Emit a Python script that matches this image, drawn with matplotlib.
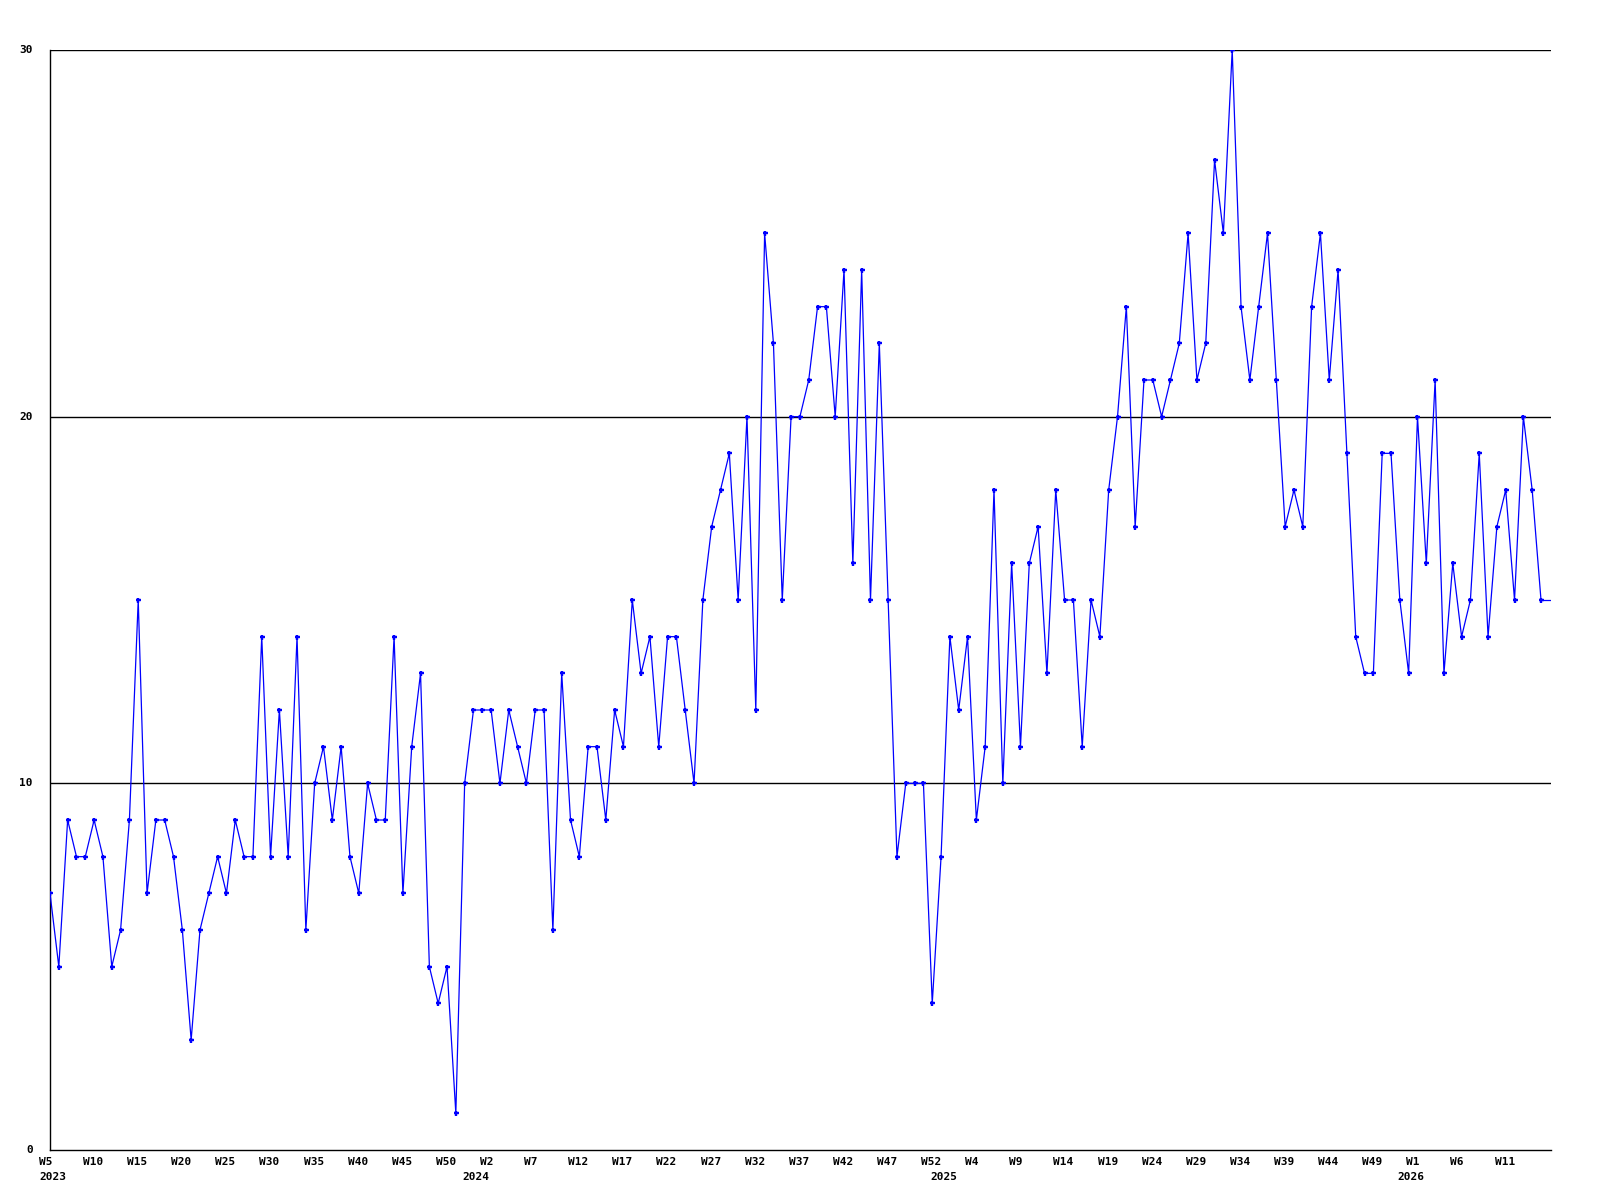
import matplotlib
matplotlib.use('Agg')
import matplotlib.pyplot as plt
import numpy as np

# weekly counts, one per week bin (year, week) starting 2023 W5
counts = [7, 5, 9, 8, 8, 9, 8, 5, 6, 9, 15, 7, 9, 9, 8, 6, 3, 6, 7, 8,
          7, 9, 8, 8, 14, 8, 12, 8, 14, 6, 10, 11, 9, 11, 8, 7, 10, 9, 9, 14,
          7, 11, 13, 5, 4, 5, 1, 10,
          12, 12, 12, 10, 12, 11, 10, 12, 12, 6, 13, 9, 8, 11, 11, 9, 12, 11, 15, 13,
          14, 11, 14, 14, 12, 10, 15, 17, 18, 19, 15, 20, 12, 25, 22, 15, 20, 20, 21, 23,
          23, 20, 24, 16, 24, 15, 22, 15, 8, 10, 10, 10, 4,
          8, 14, 12, 14, 9, 11, 18, 10, 16, 11, 16, 17, 13, 18, 15, 15, 11, 15, 14, 18,
          20, 23, 17, 21, 21, 20, 21, 22, 25, 21, 22, 27, 25, 30, 23, 21, 23, 25, 21, 17,
          18, 17, 23, 25, 21, 24, 19, 14, 13, 13, 19, 19, 15,
          13, 20, 16, 21, 13, 16, 14, 15, 19, 14, 17, 18, 15, 20, 18, 15]

# week ranges per year (first week, last week)
year_weeks = [(2023, 5, 52), (2024, 0, 52), (2025, 0, 52), (2026, 0, 15)]

years = []
weeks = []
for yr, w0, w1 in year_weeks:
    for w in range(w0, w1 + 1):
        years.append(yr)
        weeks.append(w)

x = np.arange(len(counts))
yticks = [0, 10, 20, 30]

fig = plt.figure(figsize=(16, 12), dpi=100)
ax = fig.add_axes([50/1600, 50/1200, 1501/1600, 1100/1200])

xmax = x[-1] + 10/8.82
ax.set_xlim(0, xmax)
ax.set_ylim(0, 30)

for yv in yticks[1:]:
    ax.axhline(yv, color='black', lw=1.0, zorder=1)

ax.plot(x, counts, color='#0000ff', lw=0.9, marker='+', ms=3.6, mew=1.7, zorder=3)
# line runs flat to the right edge after the last week
ax.plot([x[-1], xmax], [counts[-1], counts[-1]], color='#0000ff', lw=0.9, zorder=3)

for s in ['top', 'right']:
    ax.spines[s].set_visible(False)
for s in ['left', 'bottom']:
    ax.spines[s].set_color('black')
    ax.spines[s].set_linewidth(1.0)
ax.set_xticks([])
ax.set_yticks([])

fnt = dict(family='DejaVu Sans Mono', weight='bold', fontsize=8)

for yv in yticks:
    ax.annotate(str(yv), xy=(0, yv), xycoords=('axes fraction', 'data'),
                xytext=(-12.3, 0), textcoords='offset points',
                ha='right', va='center', **fnt)

for i in range(len(x)):
    if i % 5 == 0:
        ax.annotate('W%d' % weeks[i], xy=(x[i], 0), xycoords=('data', 'axes fraction'),
                    xytext=(-8, -8.6), textcoords='offset points',
                    ha='left', va='center', **fnt)
    if i == 0 or years[i] != years[i-1]:
        ax.annotate(str(years[i]), xy=(x[i], 0), xycoords=('data', 'axes fraction'),
                    xytext=(-8, -19.4), textcoords='offset points',
                    ha='left', va='center', **fnt)

plt.savefig('out.png', dpi=100)
